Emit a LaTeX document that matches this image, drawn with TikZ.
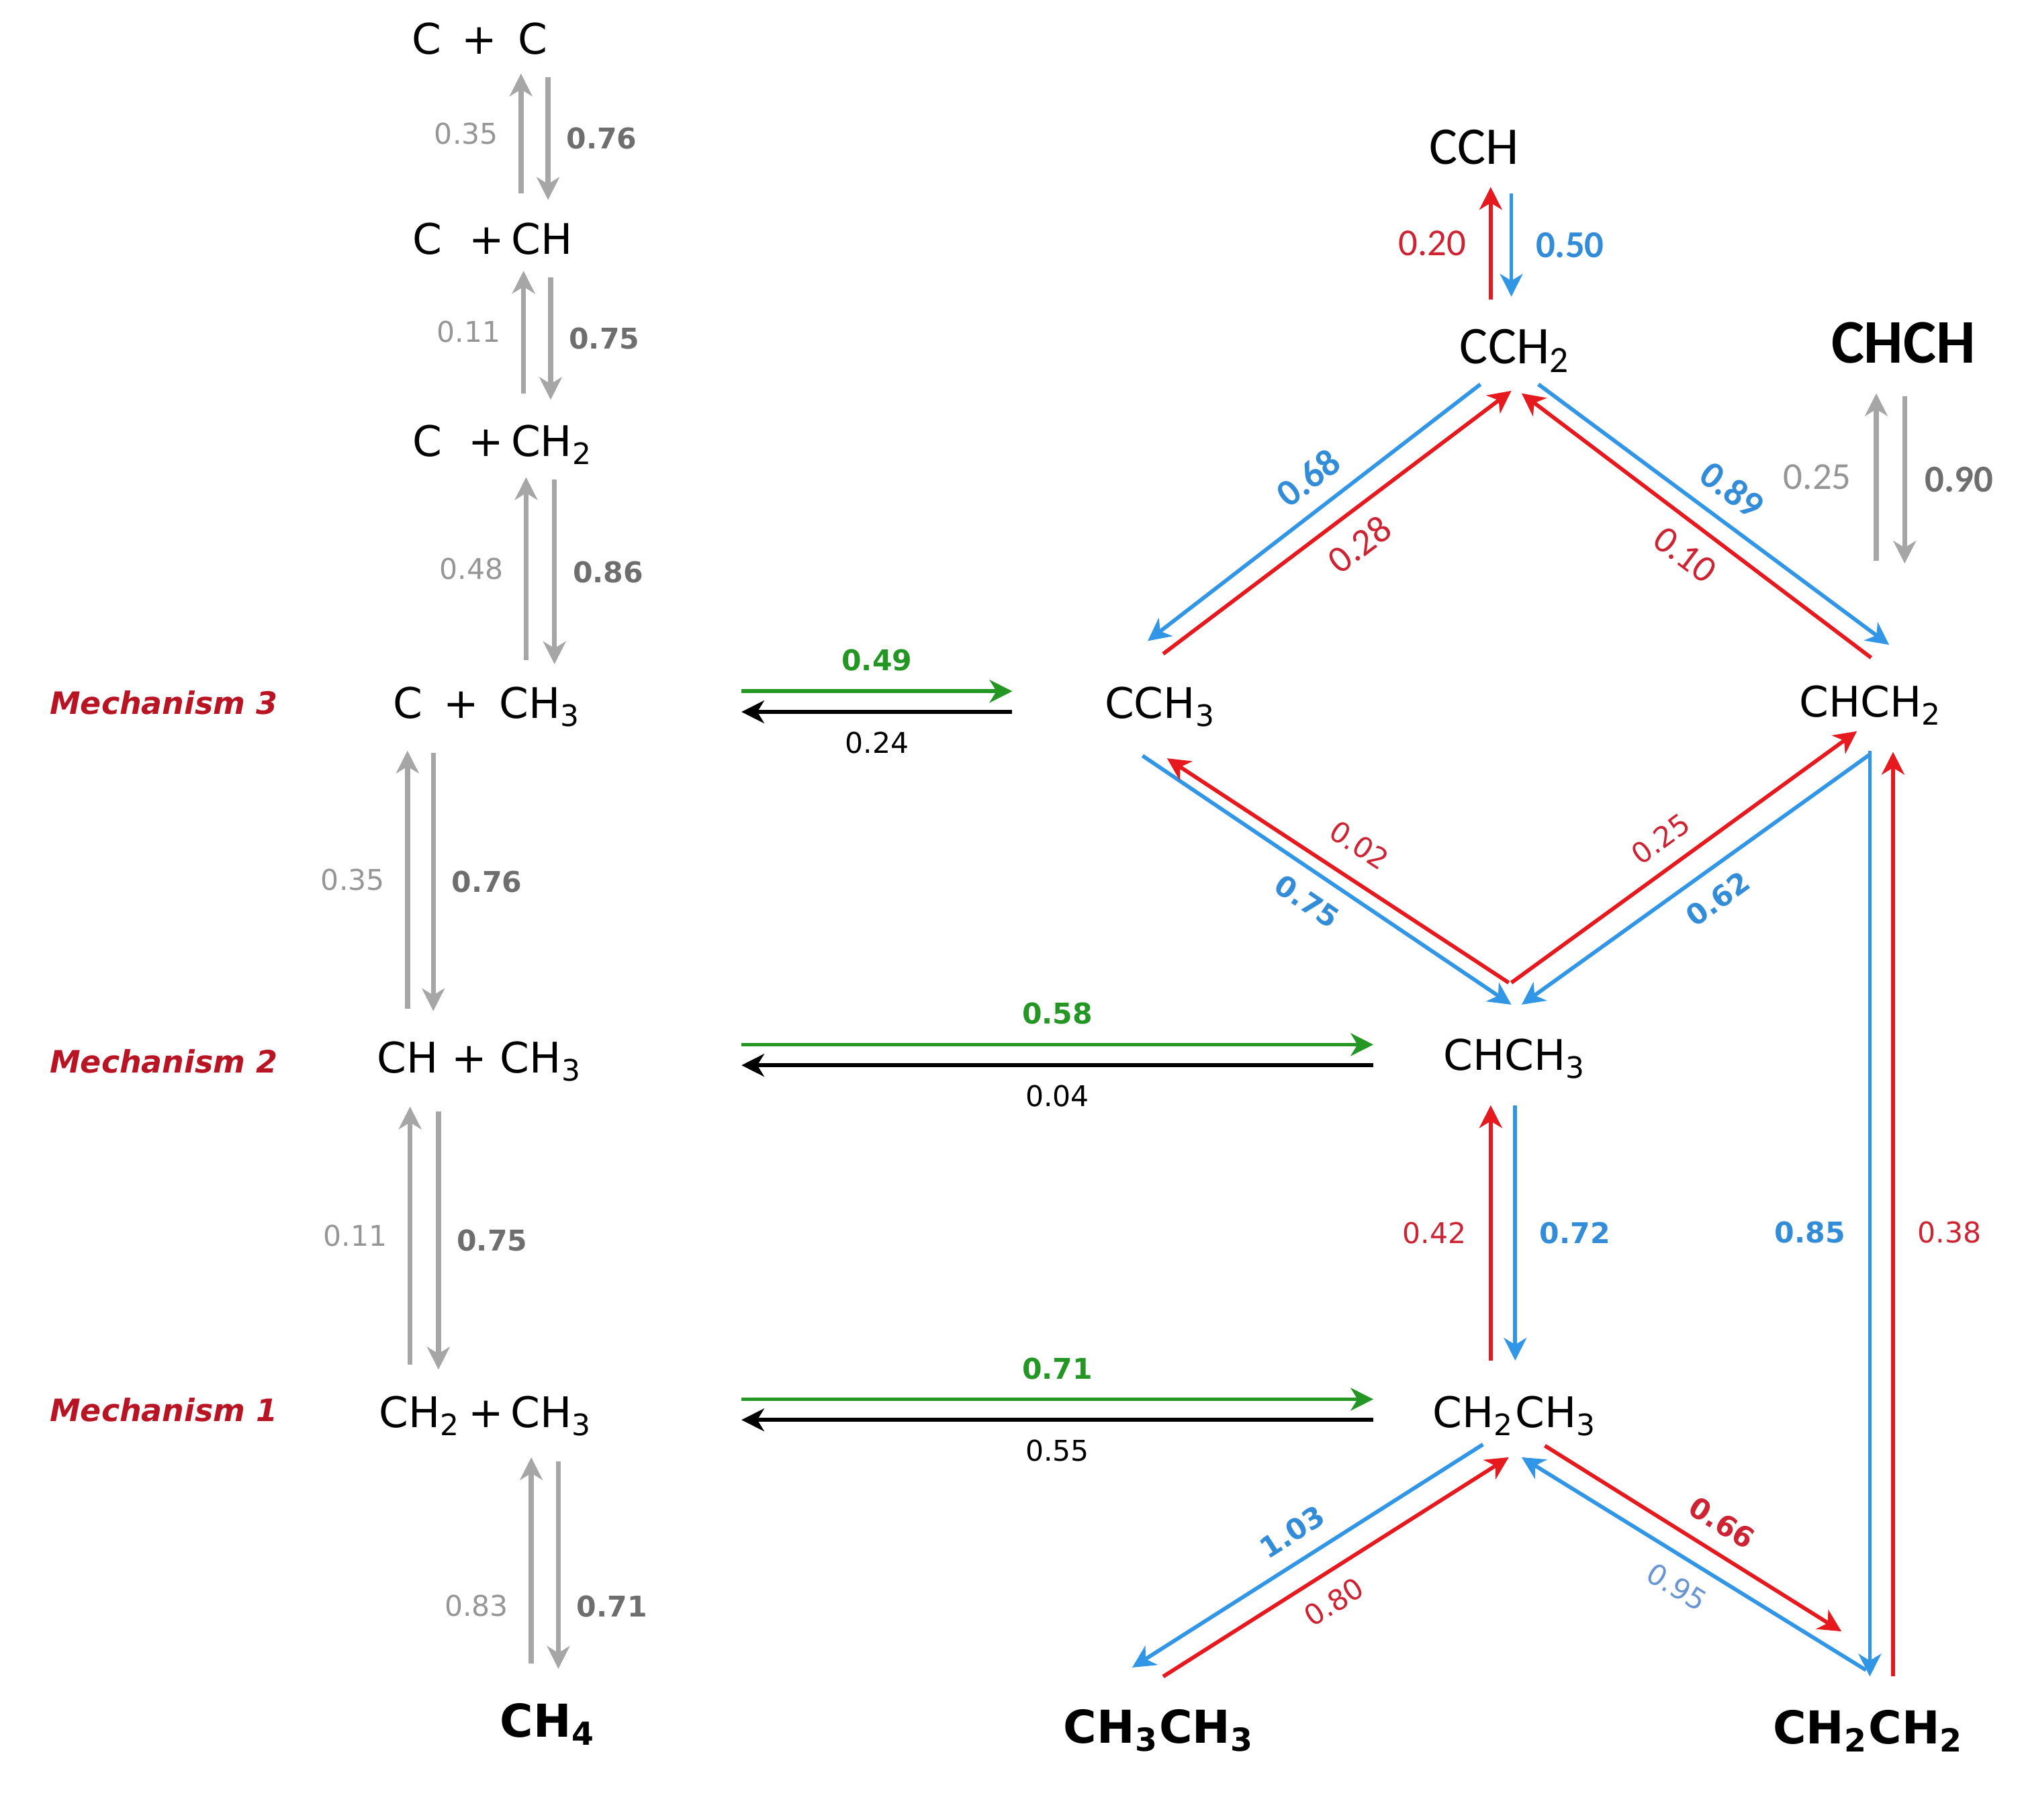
\documentclass[tikz,border=0pt]{standalone}
\usepackage{fontspec}
\setmainfont{DejaVu Sans}[ItalicFont={DejaVu Sans Oblique},BoldItalicFont={DejaVu Sans Bold Oblique}]
\newfontfamily\calfont{Carlito}
\usetikzlibrary{arrows.meta}
\definecolor{arrgray}{RGB}{166,166,166}
\definecolor{numgray}{RGB}{150,150,150}
\definecolor{numdark}{RGB}{110,110,110}
\definecolor{arrred}{RGB}{230,25,30}
\definecolor{numred}{RGB}{205,35,50}
\definecolor{arrblue}{RGB}{50,150,230}
\definecolor{numblue}{RGB}{50,140,215}
\definecolor{paleblue}{RGB}{105,150,210}
\definecolor{arrgreen}{RGB}{35,150,35}
\definecolor{mechred}{RGB}{185,20,35}
\newcommand{\chsub}[1]{\textsubscript{#1}}

\begin{document}
\begin{tikzpicture}[x=0.01cm, y=-0.01cm,
  sp/.style={inner sep=0pt, font=\fontsize{9.3}{11}\selectfont},
  bsp/.style={inner sep=0pt, font=\fontsize{10}{12}\selectfont\bfseries},
  csp/.style={inner sep=0pt, font=\calfont\fontsize{11.7}{14}\selectfont},
  bcsp/.style={inner sep=0pt, font=\calfont\fontsize{13.7}{16}\selectfont\bfseries},
  mech/.style={inner sep=0pt, text=mechred, font=\fontsize{6.8}{8}\selectfont\bfseries\itshape},
  num/.style={inner sep=0pt, font=\fontsize{6.3}{8}\selectfont},
  bnum/.style={inner sep=0pt, font=\fontsize{6.3}{8}\selectfont\bfseries},
  cnum/.style={inner sep=0pt, font=\calfont\fontsize{8.4}{10}\selectfont},
  bcnum/.style={inner sep=0pt, font=\calfont\fontsize{8.4}{10}\selectfont\bfseries},
  arr/.style={line width=0.85pt, -{Stealth[length=5pt,width=5pt,inset=1.5pt]}},
  garr/.style={arr, arrgray, line width=1.1pt},
  rarr/.style={arr, arrred},
  barr/.style={arr, arrblue},
  karr/.style={arr, black},
  grarr/.style={arr, arrgreen}]
\useasboundingbox (0,0) rectangle (1568,1411);

% left column
\node[sp] (cc) at (372,30) {C\ \,+\ \,C};
\node[sp] (cpch) at (382,185) {C\ \ +\,CH};
\node[sp] (cpch2) at (390,345) {C\ \ +\,CH\chsub{2}};
\node[sp] (cpch3) at (378,548) {C\ \,+\ \,CH\chsub{3}};
\node[sp] (chpch3) at (372,823) {CH + CH\chsub{3}};
\node[sp] (ch2pch3) at (377,1098) {CH\chsub{2}\,+\,CH\chsub{3}};
\node[bsp] (ch4) at (425,1337) {CH\chsub{4}};
\node[mech] (m3) at (127,545) {Mechanism 3};
\node[mech] (m2) at (127,823) {Mechanism 2};
\node[mech] (m1) at (127,1093) {Mechanism 1};

% right part
\node[csp] (cch) at (1143,114) {CCH};
\node[csp] (cch2) at (1175,272) {CCH\chsub{2}};
\node[bcsp] (chch) at (1476,266) {CHCH};
\node[sp] (cch3) at (900,548) {CCH\chsub{3}};
\node[sp] (chch2) at (1451,547) {CHCH\chsub{2}};
\node[sp] (chch3) at (1175,821) {CHCH\chsub{3}};
\node[sp] (ch2ch3) at (1175,1098) {CH\chsub{2}CH\chsub{3}};
\node[bsp] (c2h6) at (899,1342) {CH\chsub{3}CH\chsub{3}};
\node[bsp] (c2h4) at (1449,1342) {CH\chsub{2}CH\chsub{2}};

% gray steps, left column
\draw[garr] ([shift={(22,-35)}]cpch.center) -- ([shift={(32,27)}]cc.center) node[num,text=numgray,midway,left=4.5pt] (n01) {0.35};
\draw[garr] ([shift={(53,30)}]cc.center) -- ([shift={(43,-30)}]cpch.center) node[bnum,text=numdark,midway,right=3.5pt] (n02) {0.76};
\draw[garr] ([shift={(16,-40)}]cpch2.center) -- ([shift={(24,25)}]cpch.center) node[num,text=numgray,midway,left=4.5pt] (n03) {0.11};
\draw[garr] ([shift={(45,30)}]cpch.center) -- ([shift={(37,-35)}]cpch2.center) node[bnum,text=numdark,midway,right=3.5pt] (n04) {0.75};
\draw[garr] ([shift={(30,-36)}]cpch3.center) -- ([shift={(18,25)}]cpch2.center) node[num,text=numgray,midway,left=4.5pt] (n05) {0.48};
\draw[garr] ([shift={(40,27)}]cpch2.center) -- ([shift={(52,-33)}]cpch3.center) node[bnum,text=numdark,midway,right=3.5pt] (n06) {0.86};
\draw[garr] ([shift={(-56,-41)}]chpch3.center) -- ([shift={(-62,34)}]cpch3.center) node[num,text=numgray,midway,left=4.5pt] (n07) {0.35};
\draw[garr] ([shift={(-42,36)}]cpch3.center) -- ([shift={(-36,-39)}]chpch3.center) node[bnum,text=numdark,midway,right=3.5pt] (n08) {0.76};
\draw[garr] ([shift={(-59,-40)}]ch2pch3.center) -- ([shift={(-54,35)}]chpch3.center) node[num,text=numgray,midway,left=4.5pt] (n09) {0.11};
\draw[garr] ([shift={(-32,39)}]chpch3.center) -- ([shift={(-37,-36)}]ch2pch3.center) node[bnum,text=numdark,midway,right=3.5pt] (n10) {0.75};
\draw[garr] ([shift={(-13,-47)}]ch4.center) -- ([shift={(35,32)}]ch2pch3.center) node[num,text=numgray,pos=0.28,left=4.5pt] (n11) {0.83};
\draw[garr] ([shift={(56,35)}]ch2pch3.center) -- ([shift={(8,-43)}]ch4.center) node[bnum,text=numdark,pos=0.7,right=3.5pt] (n12) {0.71};

% mechanisms 3, 2, 1
\draw[grarr] ([shift={(197,-12)}]cpch3.center) -- ([shift={(-115,-12)}]cch3.center) node[bnum,text=arrgreen,midway,above=4pt] (n13) {0.49};
\draw[karr] ([shift={(-115,4)}]cch3.center) -- ([shift={(197,4)}]cpch3.center) node[num,midway,below=4pt] (n14) {0.24};
\draw[grarr] ([shift={(203,-13)}]chpch3.center) -- ([shift={(-110,-11)}]chch3.center) node[bnum,text=arrgreen,midway,above=4pt] (n15) {0.58};
\draw[karr] ([shift={(-110,5)}]chch3.center) -- ([shift={(203,3)}]chpch3.center) node[num,midway,below=4pt] (n16) {0.04};
\draw[grarr] ([shift={(198,-13)}]ch2pch3.center) -- ([shift={(-110,-13)}]ch2ch3.center) node[bnum,text=arrgreen,midway,above=4pt] (n17) {0.71};
\draw[karr] ([shift={(-110,3)}]ch2ch3.center) -- ([shift={(198,3)}]ch2pch3.center) node[num,midway,below=4pt] (n18) {0.55};

% top of the right part
\draw[rarr] ([shift={(-19,-40)}]cch2.center) -- ([shift={(13,31)}]cch.center) node[cnum,text=numred,midway,left=5pt] (n19) {0.20};
\draw[barr] ([shift={(29,36)}]cch.center) -- ([shift={(-3,-42)}]cch2.center) node[bcnum,text=numblue,midway,right=5pt] (n20) {0.50};
\draw[garr] ([shift={(4,-112)}]chch2.center) -- ([shift={(-21,39)}]chch.center) node[cnum,text=numgray,midway,left=5pt] (n21) {0.25};
\draw[garr] ([shift={(1,41)}]chch.center) -- ([shift={(26,-110)}]chch2.center) node[bcnum,text=numdark,midway,right=4pt] (n22) {0.90};
\draw[barr] ([shift={(-27,26)}]cch2.center) -- ([shift={(-10,-51)}]cch3.center) node[bcnum,text=numblue,pos=0.46,sloped,above=3.5pt] (n23) {0.68};
\draw[rarr] ([shift={(2,-41)}]cch3.center) -- ([shift={(-3,31)}]cch2.center) node[cnum,text=numred,pos=0.51,sloped,below=3.5pt] (n24) {0.28};
\draw[barr] ([shift={(18,26)}]cch2.center) -- ([shift={(14,-47)}]chch2.center) node[bcnum,text=numblue,pos=0.5,sloped,above=3.5pt] (n25) {0.89};
\draw[rarr] ([shift={(0,-37)}]chch2.center) -- ([shift={(5,33)}]cch2.center) node[cnum,text=numred,pos=0.48,sloped,below=3.5pt] (n26) {0.10};

% middle of the right part
\draw[barr] ([shift={(-14,38)}]cch3.center) -- ([shift={(-3,-42)}]chch3.center) node[bnum,text=numblue,pos=0.49,sloped,below=3.5pt] (n27) {0.75};
\draw[rarr] ([shift={(-5,-59)}]chch3.center) -- ([shift={(5,40)}]cch3.center) node[num,text=numred,pos=0.49,sloped,above=4.5pt] (n28) {0.02};
\draw[rarr] ([shift={(-3,-59)}]chch3.center) -- ([shift={(-11,20)}]chch2.center) node[num,text=numred,pos=0.48,sloped,above=3.5pt] (n29) {0.25};
\draw[barr] ([shift={(-1,38)}]chch2.center) -- ([shift={(5,-42)}]chch3.center) node[bnum,text=numblue,pos=0.485,sloped,below=3.5pt] (n30) {0.62};
\draw[rarr] ([shift={(-19,-43)}]ch2ch3.center) -- ([shift={(-19,36)}]chch3.center) node[num,text=numred,midway,left=5pt] (n31) {0.42};
\draw[barr] ([shift={(0,36)}]chch3.center) -- ([shift={(0,-43)}]ch2ch3.center) node[bnum,text=numblue,midway,right=5pt] (n32) {0.72};
\draw[barr] ([shift={(-1,35)}]chch2.center) -- ([shift={(1,-42)}]c2h4.center) node[bnum,text=numblue,pos=0.52,left=5pt] (n33) {0.85};
\draw[rarr] ([shift={(19,-42)}]c2h4.center) -- ([shift={(17,36)}]chch2.center) node[num,text=numred,pos=0.48,right=5pt] (n34) {0.38};

% bottom of the right part
\draw[barr] ([shift={(-25,22)}]ch2ch3.center) -- ([shift={(-21,-49)}]c2h6.center) node[bnum,text=numblue,pos=0.5,sloped,above=3.5pt] (n35) {1.03};
\draw[rarr] ([shift={(3,-42)}]c2h6.center) -- ([shift={(-5,32)}]ch2ch3.center) node[num,text=numred,pos=0.45,sloped,below=3.5pt] (n36) {0.80};
\draw[rarr] ([shift={(23,23)}]ch2ch3.center) -- ([shift={(-21,-77)}]c2h4.center) node[bnum,text=numred,pos=0.546,sloped,above=3.5pt] (n37) {0.66};
\draw[barr] ([shift={(-2,-47)}]c2h4.center) -- ([shift={(5,32)}]ch2ch3.center) node[num,text=paleblue,pos=0.505,sloped,below=3.5pt] (n38) {0.95};
\end{tikzpicture}
\end{document}
